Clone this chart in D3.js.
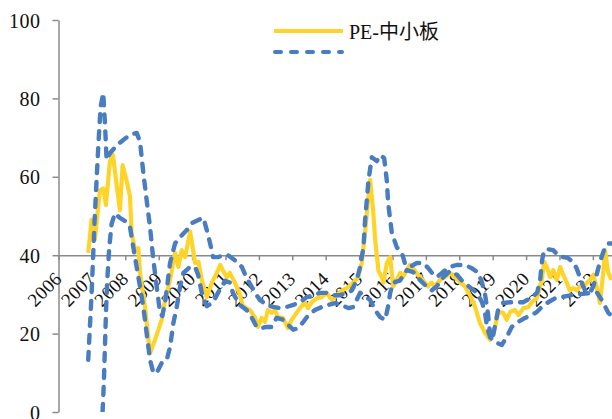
<!DOCTYPE html>
<html><head><meta charset="utf-8">
<script src="https://cdn.jsdelivr.net/npm/d3@7"></script>
<style>html,body{margin:0;padding:0;background:#fff;} svg{display:block;}</style>
</head><body><svg id="c" width="612" height="419"></svg>
<script>
// ---------- data ----------
const yearLabels = ["2006","2007","2008","2009","2010","2011","2012","2013","2014","2015","2016","2017","2018","2019","2020","2021","2022"];
const yTicks = [0, 20, 40, 60, 80, 100];
const legendLabels = ["PE-中小板", ""];

const peDates = [2006.89,2006.99,2007.09,2007.24,2007.34,2007.42,2007.54,2007.63,2007.74,2007.84,2007.92,2008.04,2008.14,2008.19,2008.29,2008.39,2008.44,2008.59,2008.74,2008.89,2009.09,2009.19,2009.34,2009.49,2009.59,2009.69,2009.79,2009.94,2010.09,2010.19,2010.29,2010.44,2010.59,2010.74,2010.84,2010.93,2011.04,2011.13,2011.28,2011.43,2011.52,2011.73,2011.88,2011.97,2012.08,2012.18,2012.27,2012.38,2012.48,2012.57,2012.72,2012.87,2012.98,2013.08,2013.23,2013.38,2013.47,2013.58,2013.73,2013.88,2014.03,2014.18,2014.33,2014.48,2014.63,2014.83,2014.97,2015.08,2015.18,2015.28,2015.33,2015.42,2015.48,2015.58,2015.68,2015.73,2015.83,2015.93,2016.02,2016.13,2016.23,2016.31,2016.43,2016.52,2016.61,2016.76,2016.91,2017.06,2017.17,2017.27,2017.42,2017.57,2017.72,2017.87,2018.02,2018.17,2018.32,2018.47,2018.62,2018.77,2018.92,2019.07,2019.17,2019.31,2019.42,2019.52,2019.67,2019.77,2019.92,2020.07,2020.17,2020.32,2020.47,2020.54,2020.62,2020.72,2020.81,2020.92,2021.02,2021.11,2021.22,2021.31,2021.41,2021.52,2021.61,2021.76,2021.91,2022.01,2022.11,2022.21,2022.31,2022.36,2022.46,2022.56];
const peValues = [40.6,49,44,56.6,57,52.8,64,65.6,58,51.5,63,59,55,45.7,41.3,41.8,35.5,26.8,15,18.4,23.5,28.6,33.7,40.6,37,41.3,39.5,46,38,38.3,33.7,29.3,33,35.5,37.5,36,34.4,35.5,33,30,27,26,24.2,21.7,24,23,26,25.3,26,24.2,24,21.4,23.5,24.7,26.5,28,26.5,28,29,29.3,30.4,28.6,29.8,31,31.6,33,34.4,38,46,55,59.2,51.5,44,36,34.4,33,38,39.5,32,33.7,35.5,34.4,36.2,37.5,36.7,35,33.7,32,33,32,33.7,34.4,35.5,34.4,33.2,32,29.8,26.8,22.7,20.2,18.4,21.7,25.5,25.3,23.5,25.5,26,24.7,26.5,26.8,28,29,33.7,38.3,37,34.4,36.2,33.7,37,35,33,31,31.6,31,32,32.4,33.7,35,32,27.8,35.5,41.3,35.5,33.7];

const upperDates = [2006.89,2006.99,2007.09,2007.19,2007.26,2007.34,2007.39,2007.44,2007.54,2007.74,2007.94,2008.14,2008.34,2008.44,2008.54,2008.64,2008.74,2008.84,2008.94,2009.04,2009.11,2009.20,2009.34,2009.49,2009.64,2009.84,2009.99,2010.19,2010.34,2010.44,2010.54,2010.63,2010.78,2010.93,2011.07,2011.19,2011.34,2011.49,2011.63,2011.78,2011.93,2012.03,2012.23,2012.43,2012.63,2012.83,2013.03,2013.23,2013.43,2013.63,2013.83,2014.03,2014.23,2014.43,2014.63,2014.78,2014.93,2015.03,2015.13,2015.18,2015.28,2015.38,2015.53,2015.63,2015.75,2015.83,2015.87,2015.98,2016.13,2016.28,2016.37,2016.52,2016.72,2016.92,2017.07,2017.18,2017.33,2017.51,2017.72,2017.92,2018.17,2018.37,2018.57,2018.68,2018.77,2018.86,2018.92,2018.99,2019.07,2019.16,2019.31,2019.52,2019.73,2019.91,2020.12,2020.33,2020.42,2020.48,2020.54,2020.66,2020.81,2020.96,2021.11,2021.25,2021.40,2021.51,2021.61,2021.71,2021.79,2021.91,2022.01,2022.11,2022.21,2022.36,2022.46,2022.57];
const upperValues = [13.3,30,50.7,67.6,77.8,81.4,73.7,64.3,66,68,69.4,70.7,71.2,69,61,54,47.2,38.8,32,25.3,24.5,28.5,38,43,44.6,46.4,48.2,49,49.5,46.4,43,39.5,39.5,40,40,39.3,38.3,37,34.2,32,29.8,28.6,27.3,26.8,26.5,26.8,27.3,28,29.3,29.8,30.4,30.4,29.8,29.8,30.4,31,33.7,37,42,49,59,65,64,65.5,64.8,59,53.3,45.7,42,40.6,38,37,38,38,36.7,35.5,34.4,35.7,37,37.5,37.5,36.7,35.5,33,30,25,20,18.4,22,26,27.8,28,28,28,29,30.4,33.7,38.8,41.3,41.5,41.3,40,39.5,39.3,38.3,36.7,34.4,32,30.6,30.4,32,35,38.3,42,43,43];

const lowerDates = [2007.32,2007.36,2007.39,2007.42,2007.46,2007.52,2007.59,2007.69,2007.84,2008.04,2008.14,2008.24,2008.34,2008.44,2008.54,2008.64,2008.74,2008.84,2008.94,2009.09,2009.24,2009.34,2009.44,2009.54,2009.64,2009.74,2009.94,2010.09,2010.18,2010.30,2010.44,2010.63,2010.78,2010.99,2011.14,2011.22,2011.43,2011.63,2011.78,2011.93,2012.08,2012.23,2012.38,2012.53,2012.73,2012.88,2013.03,2013.18,2013.33,2013.48,2013.68,2013.88,2014.08,2014.28,2014.48,2014.68,2014.83,2014.93,2015.03,2015.18,2015.33,2015.48,2015.63,2015.78,2015.87,2015.93,2016.02,2016.22,2016.43,2016.62,2016.82,2017.02,2017.17,2017.32,2017.52,2017.72,2017.93,2018.08,2018.23,2018.53,2018.68,2018.77,2018.83,2018.92,2019.04,2019.13,2019.27,2019.42,2019.57,2019.77,2019.97,2020.17,2020.32,2020.47,2020.66,2020.87,2021.17,2021.47,2021.77,2021.98,2022.13,2022.26,2022.36,2022.46,2022.57];
const lowerValues = [0,8,16.6,25,33.7,42,48,50.7,49.5,48.5,47.2,42,37,32,26.8,20,13.3,10,10,12.5,13.3,16.6,22.7,26.8,32,35.5,37,37,35,30,27,28,30.5,33.5,33,30.4,27.3,26,24.2,21.7,21.4,21.7,21.7,24,23.5,22.2,21,21.4,23,24.7,26,26.8,27.3,27.8,27.3,26.5,26.8,28.6,30.4,29.5,28.6,26,24.2,23.5,27,30.4,33,33.5,36.2,35.7,33.7,32,31,32,34.4,36,35,33.5,32.4,30.4,28,25.3,21.7,19.1,18,17.6,17.1,19.1,21.7,23,24,24.7,25.5,26.8,28,29,29.5,30,30.2,30.4,30.4,28.6,27,25.3,24.5];

// ---------- chart ----------
const W = 612, H = 419;
const svg = d3.select("#c");
const axisColor = "#8a8a8a";
const serif = "'Liberation Serif','Times New Roman',serif";

const x = d3.scaleLinear().domain([2006, 2023]).range([58.5, 626.3]);
const y = d3.scaleLinear().domain([0, 100]).range([412, 20]);

svg.append("defs").append("clipPath").attr("id", "plot")
  .append("rect").attr("x", 58).attr("y", 18).attr("width", W - 58).attr("height", 394);

// y axis
const yAxis = svg.append("g").attr("transform", "translate(58.5,0)")
  .call(d3.axisLeft(y).tickValues(yTicks).tickSize(6).tickSizeOuter(0).tickPadding(12));
yAxis.select(".domain").attr("stroke", axisColor).attr("stroke-width", 1.5);
yAxis.selectAll(".tick line").attr("stroke", axisColor).attr("stroke-width", 1.5);
yAxis.selectAll(".tick text").attr("font-family", serif).attr("font-size", 20)
  .attr("fill", "#111").attr("letter-spacing", 0.5).attr("dy", "0.35em");

// x axis at y = 40
const xAxis = svg.append("g").attr("transform", `translate(0,${y(40)})`)
  .call(d3.axisBottom(x).tickValues(d3.range(2006, 2023)).tickSize(5).tickSizeOuter(0)
    .tickFormat((d, i) => yearLabels[i]));
xAxis.select(".domain").attr("stroke", axisColor).attr("stroke-width", 1.5);
xAxis.selectAll(".tick line").attr("stroke", axisColor).attr("stroke-width", 1.5);
xAxis.selectAll(".tick text")
  .attr("font-family", serif).attr("font-size", 19).attr("fill", "#111")
  .attr("letter-spacing", 0.3)
  .attr("text-anchor", "end").attr("x", 0).attr("y", 0).attr("dy", 0)
  .attr("transform", `translate(4,${280 - y(40)}) rotate(-45)`);

// lines
const line = (dates, values) => d3.line().x((d, i) => x(dates[i])).y(d => y(d))(values);
const g = svg.append("g").attr("clip-path", "url(#plot)");
const yellow = "#FFD42A", blue = "#4A7DBF";

g.append("path").attr("d", line(peDates, peValues))
  .attr("fill", "none").attr("stroke", yellow).attr("stroke-width", 4.2)
  .attr("stroke-linejoin", "round");
[[upperDates, upperValues], [lowerDates, lowerValues]].forEach(([dd, vv]) => {
  g.append("path").attr("d", line(dd, vv))
    .attr("fill", "none").attr("stroke", blue).attr("stroke-width", 4.4)
    .attr("stroke-dasharray", "8,9").attr("stroke-linecap", "round")
    .attr("stroke-linejoin", "round");
});

// legend
const leg = svg.append("g");
leg.append("line").attr("x1", 274).attr("x2", 343).attr("y1", 31).attr("y2", 31)
  .attr("stroke", yellow).attr("stroke-width", 4);
leg.append("text").attr("x", 349).attr("y", 39).text(legendLabels[0])
  .attr("font-family", "'Liberation Serif','Noto Sans CJK SC',serif").attr("font-size", 20).attr("fill", "#111");
leg.append("line").attr("x1", 275).attr("x2", 342).attr("y1", 52).attr("y2", 52)
  .attr("stroke", blue).attr("stroke-width", 4)
  .attr("stroke-dasharray", "6,10").attr("stroke-linecap", "round");
leg.append("text").attr("x", 349).attr("y", 60).text(legendLabels[1])
  .attr("font-family", serif).attr("font-size", 20);
</script></body></html>
